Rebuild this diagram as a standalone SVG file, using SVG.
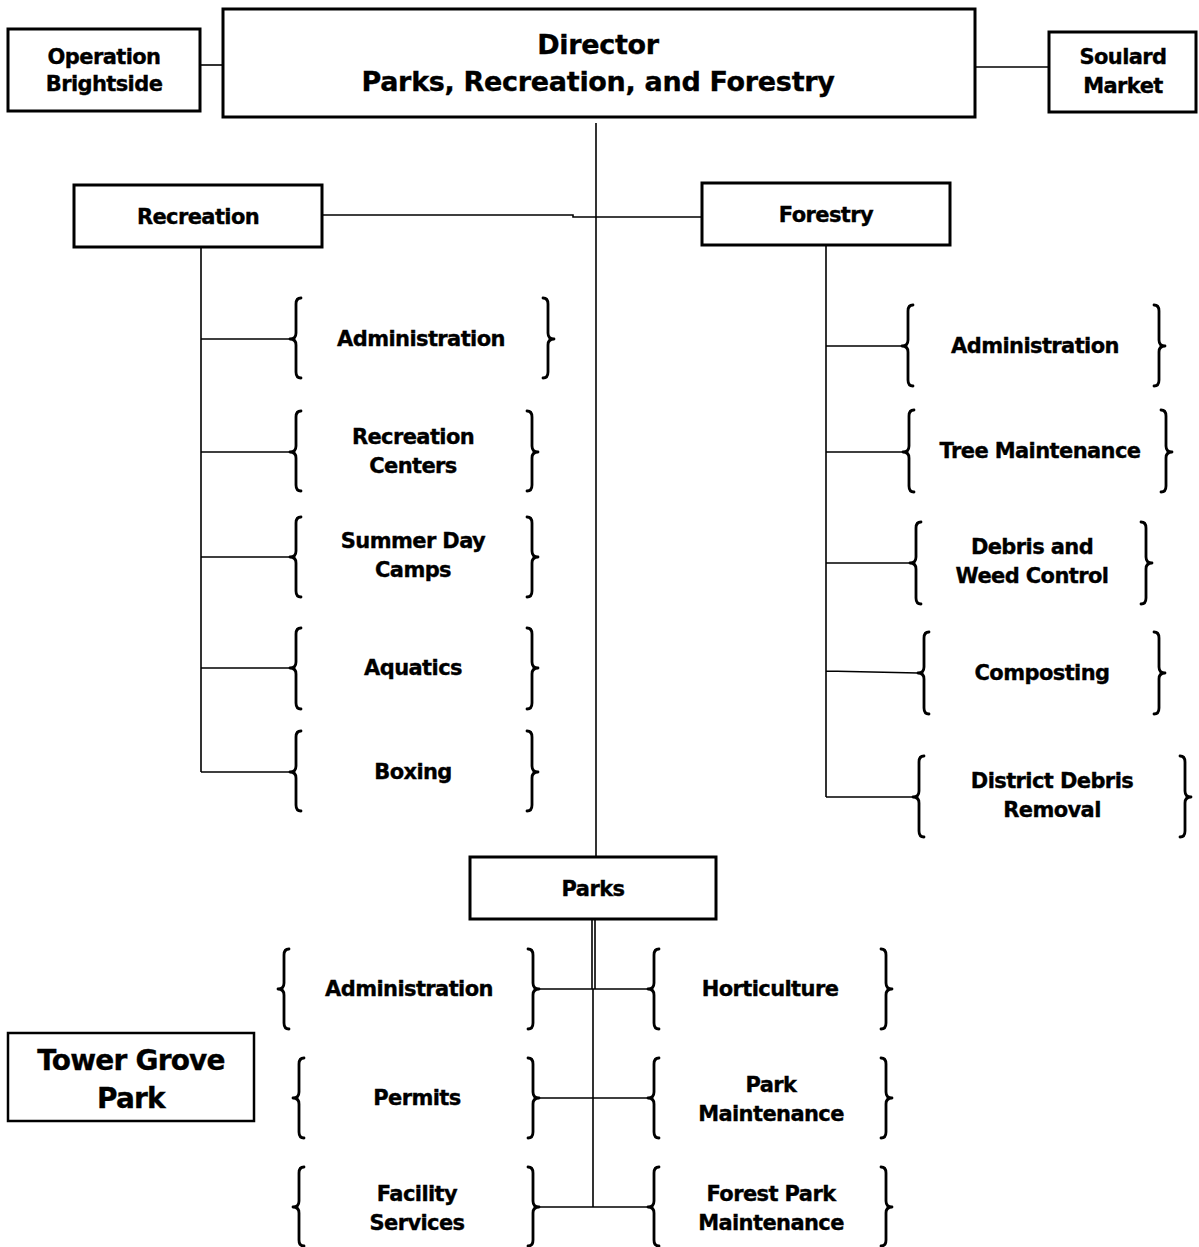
<svg xmlns="http://www.w3.org/2000/svg" width="1199" height="1247" viewBox="0 0 1199 1247">
<style>
.box{fill:#fff;stroke:#000;stroke-width:3}
.conn{fill:none;stroke:#000;stroke-width:1.6}
.br{fill:none;stroke:#000;stroke-width:2.8;stroke-linecap:round;stroke-linejoin:round}
text{font-family:"DejaVu Sans","Verdana",sans-serif;font-weight:bold;fill:#000;stroke:#000;stroke-width:0.35;text-anchor:middle;font-size:21px;letter-spacing:-0.6px}
.big{font-size:27px;letter-spacing:-0.3px}
.tg{font-size:28px;letter-spacing:-0.8px}
</style>
<rect width="1199" height="1247" fill="#fff"/>
<g id="connectors">
<path class="conn" d="M200 65 L223 65"/>
<path class="conn" d="M975 67 L1049 67"/>
<path class="conn" d="M596 123 L596 857"/>
<path class="conn" d="M322 215 L573 215 L573 217 L702 217"/>
<path class="conn" d="M201 247 L201 772 M201 339 L290 339 M201 452 L290 452 M201 557 L290 557 M201 668 L290 668 M201 772 L290 772"/>
<path class="conn" d="M826 245 L826 797 M826 346 L902 346 M826 452 L903 452 M826 563 L910 563 M826 671 L918 673 M826 797 L913 797"/>
<path class="conn" d="M592 919 L592 989 M595 919 L595 989 M593 989 L593 1207 M539 989 L648 989 M539 1098 L648 1098 M539 1207 L648 1207"/>
</g>
<g id="director"><rect class="box" x="223" y="9" width="752" height="108"/><text class="big" x="598" y="54">Director</text><text class="big" x="598" y="91">Parks, Recreation, and Forestry</text></g>
<g id="operation-brightside"><rect class="box" x="8" y="29" width="192" height="82"/><text x="104" y="64">Operation</text><text x="104" y="91">Brightside</text></g>
<g id="soulard-market"><rect class="box" x="1049" y="32" width="147" height="80"/><text x="1123" y="64">Soulard</text><text x="1123" y="93">Market</text></g>
<g id="recreation"><rect class="box" x="74" y="185" width="248" height="62"/><text x="198" y="224">Recreation</text></g>
<g id="forestry"><rect class="box" x="702" y="183" width="248" height="62"/><text x="826" y="222">Forestry</text></g>
<g id="parks"><rect class="box" x="470" y="857" width="246" height="62"/><text x="593" y="896">Parks</text></g>
<g id="tower-grove-park"><rect class="box" x="8" y="1033" width="246" height="88" style="stroke-width:2.5"/><text class="tg" x="131" y="1070">Tower Grove</text><text class="tg" x="131" y="1108">Park</text></g>

<g id="rec-administration"><path class="br" d="M301 298 Q296 298 296 304 L296 333 Q296 339 290 339 Q296 339 296 345 L296 372 Q296 378 301 378"/><path class="br" d="M543 298 Q548 298 548 304 L548 333 Q548 339 554 339 Q548 339 548 345 L548 372 Q548 378 543 378"/><text x="421" y="346">Administration</text></g>
<g id="rec-centers"><path class="br" d="M301 411 Q296 411 296 417 L296 446 Q296 452 290 452 Q296 452 296 458 L296 485 Q296 491 301 491"/><path class="br" d="M527 411 Q532 411 532 417 L532 446 Q532 452 538 452 Q532 452 532 458 L532 485 Q532 491 527 491"/><text x="413" y="444">Recreation</text><text x="413" y="473">Centers</text></g>
<g id="summer-day-camps"><path class="br" d="M301 517 Q296 517 296 523 L296 551 Q296 557 290 557 Q296 557 296 563 L296 591 Q296 597 301 597"/><path class="br" d="M527 517 Q532 517 532 523 L532 551 Q532 557 538 557 Q532 557 532 563 L532 591 Q532 597 527 597"/><text x="413" y="548">Summer Day</text><text x="413" y="577">Camps</text></g>
<g id="aquatics"><path class="br" d="M301 628 Q296 628 296 634 L296 662 Q296 668 290 668 Q296 668 296 674 L296 703 Q296 709 301 709"/><path class="br" d="M527 628 Q532 628 532 634 L532 662 Q532 668 538 668 Q532 668 532 674 L532 703 Q532 709 527 709"/><text x="413" y="675">Aquatics</text></g>
<g id="boxing"><path class="br" d="M301 731 Q296 731 296 737 L296 766 Q296 772 290 772 Q296 772 296 778 L296 805 Q296 811 301 811"/><path class="br" d="M527 731 Q532 731 532 737 L532 766 Q532 772 538 772 Q532 772 532 778 L532 805 Q532 811 527 811"/><text x="413" y="779">Boxing</text></g>

<g id="for-administration"><path class="br" d="M913 305 Q908 305 908 311 L908 340 Q908 346 902 346 Q908 346 908 352 L908 380 Q908 386 913 386"/><path class="br" d="M1154 305 Q1159 305 1159 311 L1159 340 Q1159 346 1165 346 Q1159 346 1159 352 L1159 380 Q1159 386 1154 386"/><text x="1035" y="353">Administration</text></g>
<g id="tree-maintenance"><path class="br" d="M914 410 Q909 410 909 416 L909 446 Q909 452 903 452 Q909 452 909 458 L909 486 Q909 492 914 492"/><path class="br" d="M1161 410 Q1166 410 1166 416 L1166 446 Q1166 452 1172 452 Q1166 452 1166 458 L1166 486 Q1166 492 1161 492"/><text x="1040" y="458">Tree Maintenance</text></g>
<g id="debris-weed"><path class="br" d="M921 522 Q916 522 916 528 L916 557 Q916 563 910 563 Q916 563 916 569 L916 598 Q916 604 921 604"/><path class="br" d="M1141 522 Q1146 522 1146 528 L1146 557 Q1146 563 1152 563 Q1146 563 1146 569 L1146 598 Q1146 604 1141 604"/><text x="1032" y="554">Debris and</text><text x="1032" y="583">Weed Control</text></g>
<g id="composting"><path class="br" d="M929 632 Q924 632 924 638 L924 667 Q924 673 918 673 Q924 673 924 679 L924 708 Q924 714 929 714"/><path class="br" d="M1154 632 Q1159 632 1159 638 L1159 667 Q1159 673 1165 673 Q1159 673 1159 679 L1159 708 Q1159 714 1154 714"/><text x="1042" y="680">Composting</text></g>
<g id="district-debris"><path class="br" d="M924 756 Q919 756 919 762 L919 791 Q919 797 913 797 Q919 797 919 803 L919 831 Q919 837 924 837"/><path class="br" d="M1180 756 Q1185 756 1185 762 L1185 791 Q1185 797 1191 797 Q1185 797 1185 803 L1185 831 Q1185 837 1180 837"/><text x="1052" y="788">District Debris</text><text x="1052" y="817">Removal</text></g>

<g id="parks-administration"><path class="br" d="M289 949 Q284 949 284 955 L284 983 Q284 989 278 989 Q284 989 284 995 L284 1023 Q284 1029 289 1029"/><path class="br" d="M528 949 Q533 949 533 955 L533 983 Q533 989 539 989 Q533 989 533 995 L533 1023 Q533 1029 528 1029"/><text x="409" y="996">Administration</text></g>
<g id="permits"><path class="br" d="M304 1058 Q299 1058 299 1064 L299 1092 Q299 1098 293 1098 Q299 1098 299 1104 L299 1132 Q299 1138 304 1138"/><path class="br" d="M528 1058 Q533 1058 533 1064 L533 1092 Q533 1098 539 1098 Q533 1098 533 1104 L533 1132 Q533 1138 528 1138"/><text x="417" y="1105">Permits</text></g>
<g id="facility-services"><path class="br" d="M304 1167 Q299 1167 299 1173 L299 1201 Q299 1207 293 1207 Q299 1207 299 1213 L299 1240 Q299 1246 304 1246"/><path class="br" d="M528 1167 Q533 1167 533 1173 L533 1201 Q533 1207 539 1207 Q533 1207 533 1213 L533 1240 Q533 1246 528 1246"/><text x="417" y="1201">Facility</text><text x="417" y="1230">Services</text></g>
<g id="horticulture"><path class="br" d="M659 949 Q654 949 654 955 L654 983 Q654 989 648 989 Q654 989 654 995 L654 1023 Q654 1029 659 1029"/><path class="br" d="M881 949 Q886 949 886 955 L886 983 Q886 989 892 989 Q886 989 886 995 L886 1023 Q886 1029 881 1029"/><text x="770" y="996">Horticulture</text></g>
<g id="park-maintenance"><path class="br" d="M659 1058 Q654 1058 654 1064 L654 1092 Q654 1098 648 1098 Q654 1098 654 1104 L654 1132 Q654 1138 659 1138"/><path class="br" d="M881 1058 Q886 1058 886 1064 L886 1092 Q886 1098 892 1098 Q886 1098 886 1104 L886 1132 Q886 1138 881 1138"/><text x="771" y="1092">Park</text><text x="771" y="1121">Maintenance</text></g>
<g id="forest-park-maintenance"><path class="br" d="M659 1167 Q654 1167 654 1173 L654 1201 Q654 1207 648 1207 Q654 1207 654 1213 L654 1240 Q654 1246 659 1246"/><path class="br" d="M881 1167 Q886 1167 886 1173 L886 1201 Q886 1207 892 1207 Q886 1207 886 1213 L886 1240 Q886 1246 881 1246"/><text x="771" y="1201">Forest Park</text><text x="771" y="1230">Maintenance</text></g>
</svg>
